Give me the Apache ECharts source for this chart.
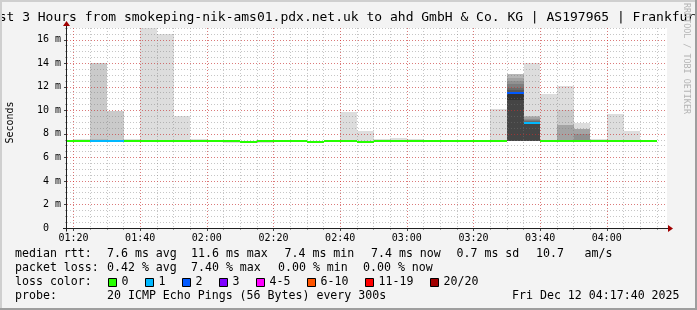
<!DOCTYPE html>
<html><head><meta charset="utf-8">
<script src="https://cdn.jsdelivr.net/npm/echarts@6/dist/echarts.min.js"></script>
<style>html,body{margin:0;padding:0;background:#f3f3f3}#c{width:697px;height:310px}</style>
</head><body><div id="c"></div>
<script>
// ---------- data ----------
const stepEnds = ['01:20','01:25','01:30','01:35','01:40','01:45','01:50','01:55','02:00','02:05',
                  '02:10','02:15','02:20','02:25','02:30','02:35','02:40','02:45','02:50','02:55',
                  '03:00','03:05','03:10','03:15','03:20','03:25','03:30','03:35','03:40','03:45',
                  '03:50','03:55','04:00','04:05','04:10','04:15'];
const medianMs = [7.42,7.42,7.42,7.42,7.42,7.42,7.42,7.42,7.42,7.42,
                  7.42,7.35,7.42,7.42,7.42,7.35,7.42,7.42,7.35,7.42,
                  7.42,7.42,7.42,7.42,7.42,7.42,7.42,11.5,8.9,7.42,
                  7.42,7.42,7.42,7.42,7.42,7.42];
const lossCount = [0,0,1,1,0,0,0,0,0,0, 0,0,0,0,0,0,0,0,0,0, 0,0,0,0,0,0,0,2,1,0, 0,0,0,0,0,0];
// highest pings of each step, largest first (null = lost ping)
const pingsHigh = [
  [], [7.55], [null,14.0,7.55], [null,9.92,7.5], [7.58], [18.5], [16.45], [9.5], [7.6], [],
  [], [], [], [], [], [], [], [9.84], [8.28], [7.57],
  [7.62], [7.58], [], [], [], [], [10.13],
  [null,null,13.1,12.77,12.48,12.2,11.92,11.71,11.6,11.55],
  [14.0,9.5,9.49,9.4,9.3,9.2,9.1,9.0,8.97,8.95],
  [11.35],
  [12.1,10.07,8.75,8.73], [8.93,8.45,8.44,8.42,8.0], [7.6], [9.72], [8.28], []
];
// lowest pings of each step, smallest first
const pingsLow = [
  [], [], [7.38], [], [], [], [], [], [], [],
  [7.25], [7.3], [7.25], [], [], [7.3], [], [], [7.3], [],
  [], [], [], [], [], [], [],
  [7.4,7.4,7.4,7.4,7.4,7.4,7.4,7.4,7.4,10.92],
  [7.4,7.4,7.4,7.4,7.4,7.4,7.4,7.4,7.4,8.8],
  [],
  [], [], [], [], [], []
];
const xLabels = ['01:20','01:40','02:00','02:20','02:40','03:00','03:20','03:40','04:00'];
const yTicks = [0,2,4,6,8,10,12,14,16];
const viewStart = '01:18:03', viewEnd = '04:18:03';
const lossBins = ['0','1','2','3','4-5','6-10','11-19','20/20'];
const lossUpper = [0,1,2,3,5,10,19,20];
const lossColors = ['#26ff00','#00b8ff','#0059ff','#7e00ff','#ff00ff','#ff5500','#ff0000','#a10000'];
const titleText = 'Last 3 Hours from smokeping-nik-ams01.pdx.net.uk to ahd GmbH & Co. KG | AS197965 | Frankfurt';
const rttStats = ['7.6 ms avg','11.6 ms max','7.4 ms min','7.4 ms now','0.7 ms sd','10.7','am/s'];
const lossStats = ['0.42 % avg','7.40 % max','0.00 % min','0.00 % now'];
const probeText = '20 ICMP Echo Pings (56 Bytes) every 300s';
const dateText = 'Fri Dec 12 04:17:40 2025';
const PINGS = 20, STEP = 5;

// ---------- helpers ----------
const FONT = '"DejaVu Sans Mono"';
const toMin = s => { const a = s.split(':').map(Number); return a[0]*60 + a[1] + (a[2]||0)/60; };
const fmt = v => { const h = Math.floor(v/60 + 1e-6), m = Math.round(v - h*60); return String(h).padStart(2,'0')+':'+String(m).padStart(2,'0'); };
const xMin = toMin(viewStart), xMax = toMin(viewEnd);
const majorX = xLabels.map(toMin);
const minorX = stepEnds.map(toMin);
const lossIndex = n => lossUpper.findIndex(u => n <= u);

function fullPings(i) {
  const p = new Array(PINGS).fill(medianMs[i]);
  pingsHigh[i].forEach((v, j) => { p[PINGS-1-j] = v; });
  pingsLow[i].forEach((v, j) => { p[j] = v; });
  return p;
}
const smokeData = [];
for (let k = 1; k <= PINGS/2; k++) {
  const gray = Math.floor(190/(PINGS/2)*(PINGS/2 - k)) + 50;
  stepEnds.forEach((e, i) => {
    const p = fullPings(i);
    const lo = p[k-1], hi = p[PINGS-k];
    if (lo == null || hi == null || hi <= lo) return;
    const t1 = toMin(e);
    smokeData.push([t1 - STEP, t1, lo, hi, gray]);
  });
}
const medianData = stepEnds.map((e, i) => { const t1 = toMin(e); return [t1 - STEP, t1, medianMs[i], lossIndex(lossCount[i])]; });

function clipRect(r, cs) {
  return echarts.graphic.clipRectByRect(r, {x: cs.x, y: cs.y, width: cs.width, height: cs.height});
}

// ---------- graphics (texts, frame, axes) ----------
const G = {left: 67, top: 28, width: 600, height: 200};
const gfx = [];
const txt = (x, y, text, size, extra) => Object.assign({type:'text', x, y, z: 20,
  style: {text, font: size + 'px ' + FONT, fill: '#000', align: 'left', verticalAlign: 'middle'}}, extra || {});
gfx.push(Object.assign(txt(-17, 18, titleText, 13), {z: 19}));
gfx.push(txt(10.5, 122.5, 'Seconds', 10, {rotation: Math.PI/2, style: {text: 'Seconds', font: '10px ' + FONT, fill: '#000', align: 'center', verticalAlign: 'middle'}}));
const LF = 11.6;
const rows = [254.3, 268.3, 282.3, 296];
gfx.push(txt(15, rows[0], 'median rtt:', LF));
[107, 191, 284.5, 371, 456.5, 536, 584.5].forEach((x, i) => gfx.push(txt(x, rows[0], rttStats[i], LF)));
gfx.push(txt(15, rows[1], 'packet loss:', LF));
[107, 191, 278, 363].forEach((x, i) => gfx.push(txt(x, rows[1], lossStats[i], LF)));
gfx.push(txt(15, rows[2], 'loss color:', LF));
let bx = 108.5;
lossBins.forEach((lab, i) => {
  gfx.push({type:'rect', z: 20, shape: {x: bx, y: 278.5, width: 8, height: 8}, style: {fill: lossColors[i], stroke: '#000', lineWidth: 1}});
  gfx.push(txt(bx + 13, rows[2], lab, LF));
  bx += 30 + 7 * lab.length;
});
gfx.push(txt(15, rows[3], 'probe:', LF));
gfx.push(txt(107, rows[3], probeText, LF));
gfx.push(txt(512, rows[3], dateText, LF));
// watermark
gfx.push({type:'text', x: 686.5, y: 58.5, rotation: -Math.PI/2, z: 21,
  style: {text: 'RRDTOOL / TOBI OETIKER', font: '8.4px ' + FONT, fill: '#b4b4b4', align: 'center', verticalAlign: 'middle'}});
// frame
gfx.push({type:'rect', z: 22, shape:{x:0,y:0,width:697,height:2}, style:{fill:'#cfcfcf'}});
gfx.push({type:'rect', z: 22, shape:{x:0,y:0,width:2,height:310}, style:{fill:'#cfcfcf'}});
gfx.push({type:'rect', z: 22, shape:{x:0,y:308,width:697,height:2}, style:{fill:'#9e9e9e'}});
gfx.push({type:'rect', z: 22, shape:{x:695,y:0,width:2,height:310}, style:{fill:'#9e9e9e'}});
// axis lines + arrows
const ox = G.left - 0.5, oy = G.top + G.height + 0.5;
gfx.push({type:'line', z: 20, shape:{x1: ox - 3.5, y1: oy, x2: G.left + G.width + 2, y2: oy}, style:{stroke:'#202020', lineWidth:1}});
gfx.push({type:'line', z: 20, shape:{x1: ox, y1: oy + 3, x2: ox, y2: G.top - 3}, style:{stroke:'#202020', lineWidth:1}});
gfx.push({type:'polygon', z: 21, shape:{points:[[G.left+G.width+1, oy-3.5],[G.left+G.width+6, oy],[G.left+G.width+1, oy+3.5]]}, style:{fill:'#a00000'}});
gfx.push({type:'polygon', z: 21, shape:{points:[[ox-3.5, G.top-2],[ox, G.top-7],[ox+3.5, G.top-2]]}, style:{fill:'#a00000'}});

const majorGrid = {color: 'rgba(255,0,0,0.38)', type: [1,2], width: 1};
const minorGrid = {color: 'rgba(120,120,120,0.42)', type: [1,2], width: 1};
const axisFont = {fontFamily: 'DejaVu Sans Mono', fontSize: 10, color: '#000'};

const chart = echarts.init(document.getElementById('c'), null, {renderer: 'canvas', width: 697, height: 310});
chart.setOption({
  backgroundColor: '#f3f3f3',
  animation: false,
  grid: Object.assign({show: true, backgroundColor: '#ffffff', borderWidth: 0, containLabel: false, outerBoundsMode: 'none'}, G),
  xAxis: [
    {type: 'value', min: xMin, max: xMax, z: 4, position: 'bottom',
     axisLine: {show: false},
     axisTick: {show: true, customValues: majorX, length: 3, lineStyle: {color: '#444'}},
     axisLabel: Object.assign({customValues: majorX, formatter: fmt, margin: 5}, axisFont),
     splitLine: {show: true, lineStyle: majorGrid}},
    {type: 'value', min: xMin, max: xMax, z: 3, position: 'bottom',
     axisLine: {show: false},
     axisTick: {show: true, customValues: minorX, length: 2, lineStyle: {color: '#999'}},
     axisLabel: {show: false},
     splitLine: {show: true, lineStyle: minorGrid}}
  ],
  yAxis: [
    {type: 'value', min: 0, max: 17, z: 4, position: 'left',
     axisLine: {show: false},
     axisTick: {show: true, customValues: yTicks, length: 3, lineStyle: {color: '#444'}},
     axisLabel: Object.assign({customValues: yTicks, margin: 6, formatter: v => v === 0 ? '0  ' : v + ' m'}, axisFont),
     splitLine: {show: true, lineStyle: majorGrid}},
    {type: 'value', min: 0, max: 17, interval: 0.5, z: 3, position: 'left',
     axisLine: {show: false},
     axisTick: {show: true, length: 2, lineStyle: {color: '#aaa'}},
     axisLabel: {show: false},
     splitLine: {show: true, lineStyle: minorGrid}}
  ],
  series: [
    {type: 'custom', name: 'smoke', xAxisIndex: 0, yAxisIndex: 0, z: 2, silent: true,
     encode: {x: [0, 1], y: [2, 3]},
     data: smokeData,
     renderItem: (params, api) => {
       const a = api.coord([api.value(0), api.value(3)]);
       const b = api.coord([api.value(1), api.value(2)]);
       const x0 = Math.round(a[0]), x1 = Math.round(b[0]);
       const y0 = Math.round(a[1]), y1 = Math.round(b[1]);
       const r = clipRect({x: x0, y: y0, width: x1 - x0, height: y1 - y0}, params.coordSys);
       if (!r) return null;
       const g = api.value(4);
       return {type: 'rect', shape: r, style: {fill: 'rgb(' + g + ',' + g + ',' + g + ')'}};
     }},
    {type: 'custom', name: 'median', xAxisIndex: 0, yAxisIndex: 0, z: 5, silent: true,
     encode: {x: [0, 1], y: 2},
     data: medianData,
     renderItem: (params, api) => {
       const a = api.coord([api.value(0), api.value(2)]);
       const b = api.coord([api.value(1), api.value(2)]);
       const x0 = Math.round(a[0]), x1 = Math.round(b[0]);
       const y = Math.round(a[1]);
       const r = clipRect({x: x0, y: y - 1, width: x1 - x0, height: 2}, params.coordSys);
       if (!r) return null;
       return {type: 'rect', shape: r, style: {fill: lossColors[api.value(3)]}};
     }}
  ],
  graphic: {elements: gfx}
});
</script>
</body></html>
